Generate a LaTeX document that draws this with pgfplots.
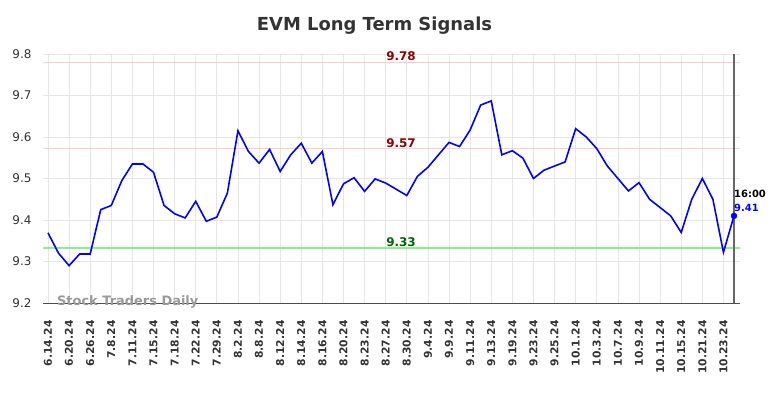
\documentclass[border=0pt]{standalone}
\usepackage{pgfplots}
\pgfplotsset{compat=1.18}
\usepackage{fontspec}
\setmainfont{DejaVu Sans}
\definecolor{txt}{HTML}{333333}
\definecolor{gridc}{HTML}{E6E6E6}
\definecolor{redl}{HTML}{FFCCCC}
\definecolor{greenl}{HTML}{90EE90}
\definecolor{dred}{HTML}{8B0000}
\definecolor{dgreen}{HTML}{006400}
\begin{document}
\begin{tikzpicture}
\begin{axis}[
  at={(0,0)}, anchor=south west,
  scale only axis, width=697bp, height=249bp,
  xmin=-0.47, xmax=65.57, ymin=9.2, ymax=9.8,
  axis line style={draw=none},
  xtick={0,2,...,64},
  xticklabels={6.14.24,6.20.24,6.26.24,7.8.24,7.11.24,7.15.24,7.18.24,7.22.24,7.29.24,8.2.24,8.8.24,8.12.24,8.14.24,8.16.24,8.20.24,8.23.24,8.27.24,8.30.24,9.4.24,9.9.24,9.11.24,9.13.24,9.19.24,9.23.24,9.25.24,10.1.24,10.3.24,10.7.24,10.9.24,10.11.24,10.15.24,10.21.24,10.23.24},
  x tick label style={rotate=90, anchor=east, font=\bfseries\fontsize{10.8}{12}\selectfont, text=txt},
  ytick={9.2,9.3,...,9.8},
  yticklabel style={/pgf/number format/fixed,/pgf/number format/precision=1, /pgf/number format/fixed zerofill, font=\fontsize{12}{14}\selectfont, text=txt},
  /pgf/number format/assume math mode=true,
  xtick pos=bottom, ytick pos=left, major tick length=0pt,
  xticklabel shift=14bp, yticklabel shift=8bp,
  grid=major, major grid style={gridc, line width=0.8pt},
  clip=false,
]
\addplot[redl, line width=1.6pt, forget plot] coordinates {(-0.47,9.78) (65.57,9.78)};
\addplot[redl, line width=1.6pt, forget plot] coordinates {(-0.47,9.572) (65.57,9.572)};
\addplot[greenl, line width=1.6pt, forget plot] coordinates {(-0.47,9.332) (65.57,9.332)};
\draw[black!70, line width=0.8pt] (axis cs:-0.47,9.2) -- (axis cs:65.57,9.2);
\draw[black!60, line width=1.8pt] (axis cs:65,9.2) -- (axis cs:65,9.8);
\node[anchor=west, font=\bfseries\fontsize{13}{15}\selectfont, text=black!40, inner sep=0pt] at (axis cs:0.85,9.2024) {Stock Traders Daily};
\node[anchor=south, font=\bfseries\fontsize{12}{14}\selectfont, text=dred, inner sep=1pt] at (axis cs:33.45,9.78) {9.78};
\node[anchor=south, font=\bfseries\fontsize{12}{14}\selectfont, text=dred, inner sep=1pt] at (axis cs:33.45,9.572) {9.57};
\node[anchor=south, font=\bfseries\fontsize{12}{14}\selectfont, text=dgreen, inner sep=1pt] at (axis cs:33.45,9.332) {9.33};
\addplot[blue, line width=1.6pt] coordinates {
(0,9.369) (1,9.32) (2,9.29) (3,9.318) (4,9.318) (5,9.425) (6,9.435) (7,9.495) (8,9.535) (9,9.535)
(10,9.515) (11,9.435) (12,9.415) (13,9.405) (14,9.445) (15,9.397) (16,9.407) (17,9.465) (18,9.615) (19,9.565)
(20,9.537) (21,9.57) (22,9.517) (23,9.557) (24,9.585) (25,9.537) (26,9.565) (27,9.437) (28,9.487) (29,9.502)
(30,9.469) (31,9.499) (32,9.489) (33,9.474) (34,9.459) (35,9.505) (36,9.527) (37,9.557) (38,9.587) (39,9.577)
(40,9.617) (41,9.677) (42,9.687) (43,9.557) (44,9.567) (45,9.549) (46,9.5) (47,9.52) (48,9.53) (49,9.54)
(50,9.62) (51,9.6) (52,9.572) (53,9.53) (54,9.5) (55,9.47) (56,9.49) (57,9.45) (58,9.43) (59,9.41)
(60,9.37) (61,9.45) (62,9.5) (63,9.45) (64,9.322) (65,9.41)
};
\addplot[blue, only marks, mark=*, mark size=3pt] coordinates {(65,9.41)};
\node[anchor=west, font=\bfseries\fontsize{10}{12}\selectfont, text=black, inner sep=0pt] at (axis cs:65,9.4627) {16:00};
\node[anchor=west, font=\bfseries\fontsize{10}{12}\selectfont, text=blue, inner sep=0pt] at (axis cs:65,9.4289) {9.41};
\end{axis}
\node[font=\bfseries\fontsize{18}{21}\selectfont, text=txt] at (331.5bp,277bp) {EVM Long Term Signals};
\pgfresetboundingbox
\path (-43bp,-95bp) rectangle (741bp,303bp);
\end{tikzpicture}
\end{document}
